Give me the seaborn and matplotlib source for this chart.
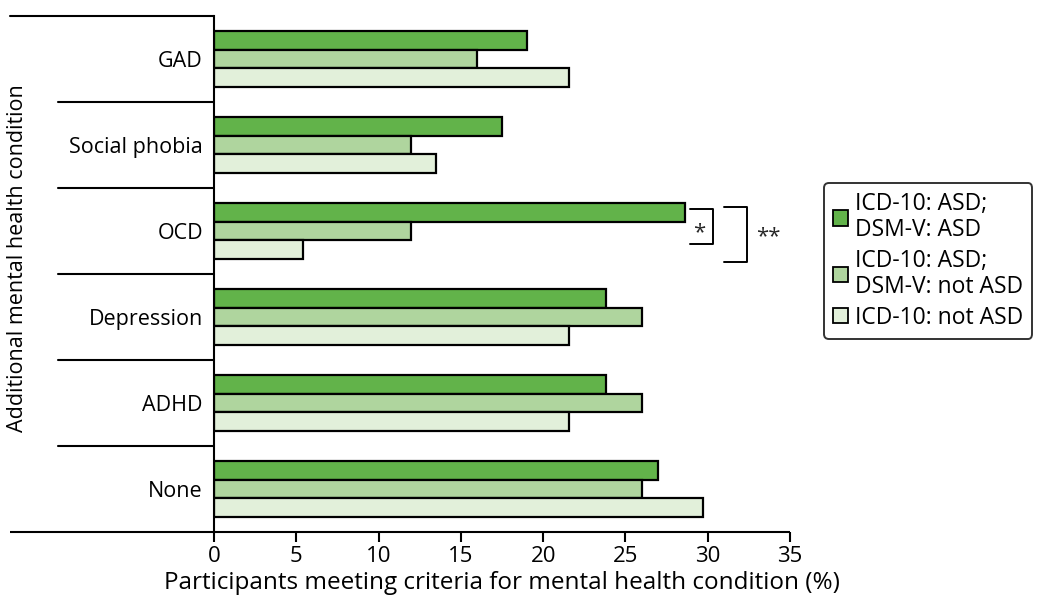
import matplotlib
matplotlib.use("Agg")
import matplotlib.pyplot as plt
import matplotlib.transforms as mtransforms
import seaborn as sns
import pandas as pd

# Conditions and percentages per diagnostic group
conditions = ["GAD", "Social phobia", "OCD", "Depression", "ADHD", "None"]
groups = ["ICD-10: ASD;\nDSM-V: ASD", "ICD-10: ASD;\nDSM-V: not ASD", "ICD-10: not ASD"]
asd_asd = [19.0, 17.5, 28.6, 23.8, 23.8, 27.0]
asd_not_asd = [16.0, 12.0, 12.0, 26.0, 26.0, 26.0]
not_asd = [21.6, 13.5, 5.4, 21.6, 21.6, 29.7]
x_ticks = [0, 5, 10, 15, 20, 25, 30, 35]

palette = ["#62b34a", "#afd59e", "#e2f0da"]

rows = []
for g, vals in zip(groups, [asd_asd, asd_not_asd, not_asd]):
    for c, v in zip(conditions, vals):
        rows.append({"condition": c, "group": g, "pct": v})
df = pd.DataFrame(rows)

sns.set_theme(style="white")
plt.rcParams["font.family"] = ["Open Sans", "DejaVu Sans"]

fig = plt.figure(figsize=(10.41, 5.99), dpi=100)
ax = fig.add_axes([214 / 1041, 1 - 532 / 599, (790 - 214) / 1041, (532 - 16) / 599])

sns.barplot(data=df, x="pct", y="condition", hue="group", order=conditions,
            hue_order=groups, palette=palette, orient="h", width=0.66,
            edgecolor="black", linewidth=1.6, saturation=1, ax=ax)

ax.set_xlim(0, 35)
ax.set_ylim(5.5, -0.5)
ax.set_xticks(x_ticks)
ax.tick_params(axis="x", direction="out", length=7, width=1.5, color="black",
               labelsize=16, pad=3, bottom=True)
ax.tick_params(axis="y", length=0, labelsize=15.5, pad=8)
for lbl in ax.get_yticklabels() + ax.get_xticklabels():
    lbl.set_color("black")

for s in ["top", "right", "bottom"]:
    ax.spines[s].set_visible(False)
ax.spines["left"].set_color("black")
ax.spines["left"].set_linewidth(1.5)

# Divider lines between categories, extending into the label area
blend = mtransforms.blended_transform_factory(ax.transAxes, ax.transData)
left_full = (10 - 214) / (790 - 214)
left_short = (58 - 214) / (790 - 214)
for i in range(len(conditions) + 1):
    yb = i - 0.5
    if i == 0:
        ax.plot([left_full, 0], [yb, yb], color="black", lw=1.5,
                transform=blend, clip_on=False)
    elif i == len(conditions):
        ax.plot([left_full, 1], [yb, yb], color="black", lw=1.5,
                transform=blend, clip_on=False, solid_capstyle="butt")
    else:
        ax.plot([left_short, 0], [yb, yb], color="black", lw=1.5,
                transform=blend, clip_on=False)

ax.set_xlabel("Participants meeting criteria for mental health condition (%)",
              fontsize=17.5, color="black", labelpad=3)
ax.set_ylabel("Additional mental health condition", fontsize=15.5, color="black")
ax.yaxis.set_label_coords(-0.323, 0.53)

# Significance brackets for OCD
ocd = conditions.index("OCD")
bw = 0.22
b1_top, b1_bot = ocd - bw - 0.04, ocd + 0.15
ax.plot([28.9, 30.3, 30.3, 28.9], [b1_top, b1_top, b1_bot, b1_bot],
        color="black", lw=1.4, clip_on=False)
ax.text(29.5, ocd + 0.02, "*", ha="center", va="center", fontsize=16)
b2_top, b2_bot = ocd - bw - 0.06, ocd + 0.36
ax.plot([31.0, 32.4, 32.4, 31.0], [b2_top, b2_top, b2_bot, b2_bot],
        color="black", lw=1.4, clip_on=False)
ax.text(33.7, ocd + 0.07, "**", ha="center", va="center", fontsize=16)

# Legend
ax.get_legend().remove()
handles = [plt.Rectangle((0, 0), 1, 1, facecolor=c, edgecolor="black", lw=1.3)
           for c in palette]
leg = fig.legend(handles, groups, loc="upper left",
                 bbox_to_anchor=(824 / 1041, 1 - 183 / 599),
                 bbox_transform=fig.transFigure, fontsize=16.5, frameon=True,
                 fancybox=True, handlelength=0.65, handleheight=0.65,
                 handletextpad=0.3, borderpad=0.4, labelspacing=0.3,
                 borderaxespad=0)
leg.get_frame().set_edgecolor("black")
leg.get_frame().set_linewidth(1.4)
for t in leg.get_texts():
    t.set_color("black")
    t.set_linespacing(1.1)

fig.savefig("out.png", dpi=100)
